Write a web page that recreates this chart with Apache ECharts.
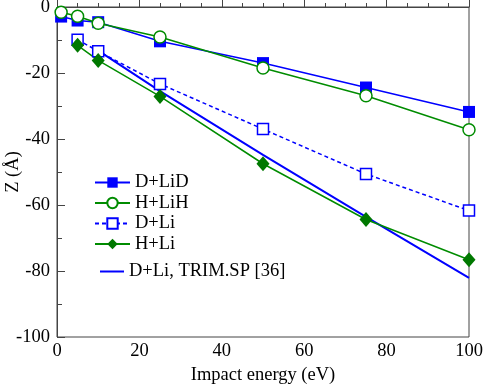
<!DOCTYPE html>
<html>
<head>
<meta charset="utf-8">
<script src="https://cdn.jsdelivr.net/npm/echarts@6/dist/echarts.min.js"></script>
<style>
  html, body { margin: 0; padding: 0; background: #fff; }
  #chart { width: 484px; height: 385px; }
</style>
</head>
<body>
<div id="chart"></div>
<script>
// impact energy (eV)
var energies = [1, 5, 10, 25, 50, 75, 100];
var energiesLi = [5, 10, 25, 50, 75, 100];
var energiesTrim = [10, 25, 50, 75, 100];

// depth Z (Angstrom)
var dLiD = [-2.9, -4.1, -4.6, -10.4, -17.0, -24.4, -31.8];
var hLiH = [-1.6, -2.8, -4.9, -9.1, -18.5, -26.9, -37.2];
var dLi = [-9.9, -13.4, -23.3, -37.0, -50.6, -61.7];
var hLi = [-11.6, -16.2, -27.1, -47.5, -64.4, -76.6];
var dLiTrim = [-13.2, -25.5, -44.8, -63.6, -82.1];

var BLUE = '#0000ff';
var GREEN = '#008c00';
var DKGREEN = '#007800';
var FONT = '"Liberation Serif", "DejaVu Serif", serif';
var FS = 18.5;

function pairs(xs, ys) {
    return xs.map(function (x, i) { return [x, ys[i]]; });
}

var chart = echarts.init(document.getElementById('chart'));
var option = {
    animation: false,
    textStyle: { fontFamily: FONT },
    grid: {
        left: 57, right: 15, top: 7, bottom: 48,
        outerBoundsMode: 'none',
        show: true, borderColor: '#444', borderWidth: 1
    },
    legend: [{
        orient: 'vertical',
        left: 89, top: 168,
        itemWidth: 35, itemHeight: 13, itemGap: 1.5,
        textStyle: { fontFamily: FONT, fontSize: FS, lineHeight: 17.5, color: '#000' },
        data: ['D+LiD', 'H+LiH', 'D+Li', 'H+Li']
    }, {
        orient: 'vertical',
        left: 95, top: 257,
        itemWidth: 24, itemHeight: 2,
        textStyle: { fontFamily: FONT, fontSize: FS, lineHeight: 17.5, color: '#000' },
        data: [{ name: 'D+Li, TRIM.SP [36]', icon: 'rect' }]
    }],
    xAxis: {
        type: 'value', min: 0, max: 100, interval: 20,
        name: 'Impact energy (eV)', nameLocation: 'middle', nameGap: 29,
        nameMoveOverlap: false,
        nameTextStyle: { fontFamily: FONT, fontSize: FS, color: '#000' },
        axisLine: { lineStyle: { color: '#444' } },
        axisTick: { inside: true, length: 8, lineStyle: { color: '#444' } },
        minorTick: { show: true, splitNumber: 4, length: 4, lineStyle: { color: '#444' } },
        splitLine: { show: false },
        axisLabel: { fontFamily: FONT, fontSize: FS, color: '#000', margin: 5 }
    },
    yAxis: {
        type: 'value', min: -100, max: 0, interval: 20,
        name: 'Z (Å)', nameLocation: 'middle', nameGap: 34,
        nameMoveOverlap: false,
        nameTextStyle: { fontFamily: FONT, fontSize: FS, color: '#000' },
        axisLine: { lineStyle: { color: '#444' } },
        axisTick: { inside: true, length: 8, lineStyle: { color: '#444' } },
        minorTick: { show: true, splitNumber: 2, length: 5, lineStyle: { color: '#444' } },
        splitLine: { show: false },
        axisLabel: { fontFamily: FONT, fontSize: FS, color: '#000', margin: 7 }
    },
    series: [{
        name: 'D+LiD', type: 'line',
        data: pairs(energies, dLiD),
        symbol: 'rect', symbolSize: 12,
        lineStyle: { color: BLUE, width: 1.5 },
        itemStyle: { color: BLUE },
        z: 3
    }, {
        name: 'H+LiH', type: 'line',
        data: pairs(energies, hLiH),
        symbol: 'circle', symbolSize: 12,
        lineStyle: { color: GREEN, width: 1.5 },
        itemStyle: { color: '#fff', borderColor: GREEN, borderWidth: 1.5 },
        z: 4
    }, {
        name: 'D+Li', type: 'line',
        data: pairs(energiesLi, dLi),
        symbol: 'rect', symbolSize: 11,
        lineStyle: { color: BLUE, width: 1.5, type: [4, 3] },
        itemStyle: { color: '#fff', borderColor: BLUE, borderWidth: 1.5 },
        z: 3
    }, {
        name: 'H+Li', type: 'line',
        data: pairs(energiesLi, hLi),
        symbol: 'diamond', symbolSize: [13, 15],
        lineStyle: { color: GREEN, width: 1.5 },
        itemStyle: { color: DKGREEN },
        z: 3
    }, {
        name: 'D+Li, TRIM.SP [36]', type: 'line',
        data: pairs(energiesTrim, dLiTrim),
        symbol: 'none',
        lineStyle: { color: BLUE, width: 2 },
        itemStyle: { color: BLUE },
        z: 2
    }]
};
chart.setOption(option);
</script>
</body>
</html>
